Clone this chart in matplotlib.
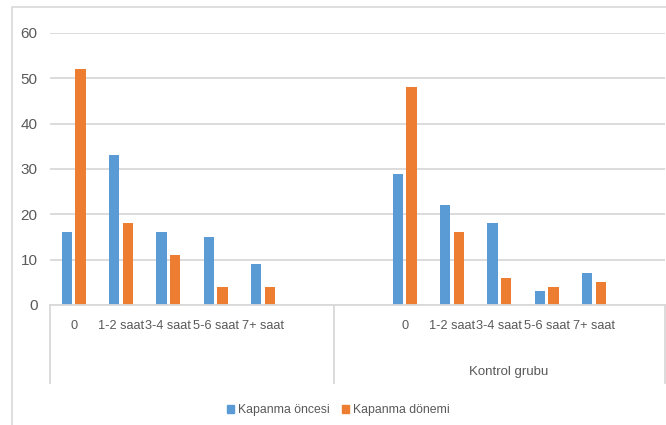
import matplotlib
matplotlib.use("Agg")
import matplotlib.pyplot as plt
from matplotlib.patches import Rectangle
from matplotlib.lines import Line2D

categories = ["0", "1-2 saat", "3-4 saat", "5-6 saat", "7+ saat"]
group_labels = ["", "Kontrol grubu"]
series_names = ["Kapanma öncesi", "Kapanma dönemi"]

first_before = [16, 33, 16, 15, 9]
first_during = [52, 18, 11, 4, 4]
control_before = [29, 22, 18, 3, 7]
control_during = [48, 16, 6, 4, 5]

blue = "#5b9bd5"
orange = "#ed7d31"
text_color = "#595959"
grid_color = "#d9d9d9"

plt.rcParams["font.family"] = ["Liberation Sans", "DejaVu Sans"]

W, H = 666, 425
fig = plt.figure(figsize=(W / 100, H / 100), dpi=100)

# outer chart border
fig.add_artist(Rectangle((12 / W, -0.1), 1.2, (H - 7) / H + 0.1,
                         transform=fig.transFigure, fill=False,
                         edgecolor=grid_color, linewidth=1.2))

ax = fig.add_axes([50 / W, (H - 305) / H, 615 / W, 272 / H])

# slot layout: first group uses slots 0-5, control group uses slots 6-12
first_pos = [0, 1, 2, 3, 4]
control_pos = [7, 8, 9, 10, 11]
bw = 0.22
off = 0.145

ax.bar([p - off for p in first_pos], first_before, bw, color=blue)
ax.bar([p + off for p in first_pos], first_during, bw, color=orange)
ax.bar([p - off for p in control_pos], control_before, bw, color=blue)
ax.bar([p + off for p in control_pos], control_during, bw, color=orange)

ax.set_xlim(-0.5, 12.5)
ax.set_ylim(0, 60)
ax.set_yticks(range(0, 61, 10))
ax.yaxis.grid(True, color=grid_color, linewidth=1.3)
ax.set_axisbelow(True)
for s in ["top", "right", "left"]:
    ax.spines[s].set_visible(False)
ax.spines["bottom"].set_color(grid_color)
ax.spines["bottom"].set_linewidth(1.3)
ax.tick_params(axis="y", length=0, pad=9, labelsize=11, labelcolor=text_color)
ax.tick_params(axis="x", length=0, pad=11, labelsize=9.2, labelcolor=text_color)
ax.set_xticks(first_pos + control_pos)
ax.set_xticklabels(categories + categories)

# group separators under the axis
tr = ax.get_xaxis_transform()
for x in [-0.5, 5.5, 12.5]:
    ax.add_line(Line2D([x, x], [0, -78 / 272], transform=tr, color=grid_color,
                       linewidth=1.3, clip_on=False))
ax.text(2.5, -67 / 272, group_labels[0], transform=tr, ha="center",
        va="center", fontsize=9.5, color=text_color)
ax.text(9.2, -67 / 272, group_labels[1], transform=tr, ha="center",
        va="center", fontsize=9.5, color=text_color)

handles = [Rectangle((0, 0), 1, 1, color=blue), Rectangle((0, 0), 1, 1, color=orange)]
fig.legend(handles, series_names, loc="center", bbox_to_anchor=(338 / W, 15 / H),
           ncol=2, frameon=False, handlelength=0.6, handleheight=0.6,
           handletextpad=0.3, columnspacing=1.0, fontsize=8.8,
           labelcolor=text_color)

fig.savefig("out.png", dpi=100)
